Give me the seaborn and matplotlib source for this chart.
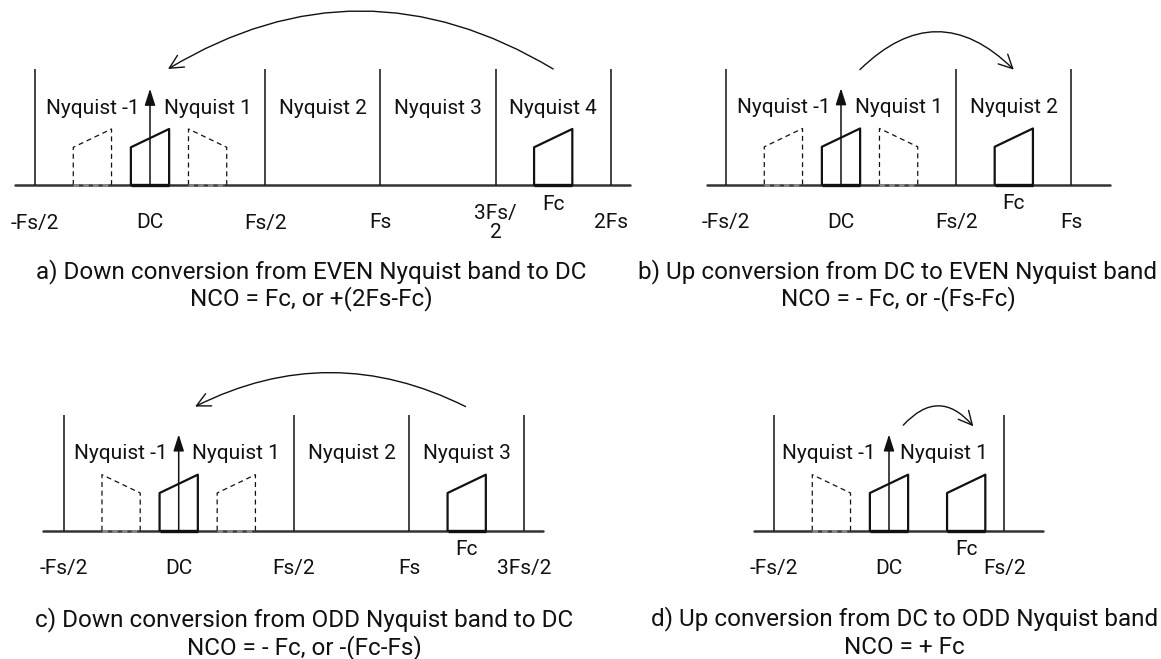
import numpy as np
import pandas as pd
import matplotlib
matplotlib.use("Agg")
import matplotlib.pyplot as plt
import seaborn as sns

sns.set_theme(style="white")
plt.rcParams['font.family'] = ['Roboto', 'DejaVu Sans']

# ---------------- data (frequencies in units of Fs) ----------------
panels = ["a", "b", "c", "d"]

band_edges = {
    "a": [-0.5, 0.5, 1.0, 1.5, 2.0],
    "b": [-0.5, 0.5, 1.0],
    "c": [-0.5, 0.5, 1.0, 1.5],
    "d": [-0.5, 0.5],
}
tick_pos = {
    "a": [-0.5, 0.0, 0.5, 1.0, 1.5, 2.0],
    "b": [-0.5, 0.0, 0.5, 1.0],
    "c": [-0.5, 0.0, 0.5, 1.0, 1.5],
    "d": [-0.5, 0.0, 0.5],
}
tick_labels = {
    "a": ["-Fs/2", "DC", "Fs/2", "Fs", "3Fs/\n2", "2Fs"],
    "b": ["-Fs/2", "DC", "Fs/2", "Fs"],
    "c": ["-Fs/2", "DC", "Fs/2", "Fs", "3Fs/2"],
    "d": ["-Fs/2", "DC", "Fs/2"],
}
nyq_labels = {
    "a": ["Nyquist -1", "Nyquist 1", "Nyquist 2", "Nyquist 3", "Nyquist 4"],
    "b": ["Nyquist -1", "Nyquist 1", "Nyquist 2"],
    "c": ["Nyquist -1", "Nyquist 1", "Nyquist 2", "Nyquist 3"],
    "d": ["Nyquist -1", "Nyquist 1"],
}
nyq_centers = {
    "a": [-0.25, 0.25, 0.75, 1.25, 1.75],
    "b": [-0.25, 0.25, 0.75],
    "c": [-0.25, 0.25, 0.75, 1.25],
    "d": [-0.26, 0.24],
}
fc = {"a": 1.75, "b": 0.75, "c": 1.25, "d": 0.335}
# dashed images: centre and orientation (+1 rising, -1 falling)
image_centers = {"a": [-0.25, 0.25], "b": [-0.25, 0.25], "c": [-0.25, 0.25], "d": [-0.25]}
image_dirs = {"a": [1, -1], "b": [1, -1], "c": [-1, 1], "d": [-1]}
axis_extent = {"a": (-0.586, 2.083), "b": (-0.582, 1.168), "c": (-0.589, 1.581), "d": (-0.586, 0.667)}
# curved arrow: (x_start, y_start, x_end, y_end)
arcs = {
    "a": (1.75, 1.0, 0.078, 1.0),
    "b": (0.082, 0.99, 0.75, 0.99),
    "c": (1.245, 1.07, 0.071, 1.07),
    "d": (0.062, 0.91, 0.366, 0.90),
}
arc_rad = {"a": 0.30, "b": -0.49, "c": 0.25, "d": -0.56}
titles = {
    "a": ["a) Down conversion from EVEN Nyquist band to DC", "NCO = Fc, or +(2Fs-Fc)"],
    "b": ["b) Up conversion from DC to EVEN Nyquist band", "NCO = - Fc, or -(Fs-Fc)"],
    "c": ["c) Down conversion from ODD Nyquist band to DC", "NCO = - Fc, or -(Fc-Fs)"],
    "d": ["d) Up conversion from DC to ODD Nyquist band", "NCO = + Fc"],
}
title_x = {"a": 0.70, "b": 0.247, "c": 0.544, "d": 0.067}

# signal shape
half_w = 0.083
low_h, high_h = 0.325, 0.483
line_h = 1.0
tone_h = 0.83

# ---------------- layout ----------------
W, H = 1161, 659
S = 230.4   # px per Fs
V = 116.0   # px per amplitude unit
boxes = {"a": (0, 0, 640, 330), "b": (640, 0, 1161, 330),
         "c": (0, 330, 640, 659), "d": (640, 330, 1161, 659)}
origin = {"a": (150.0, 185.0), "b": (841.0, 184.5), "c": (178.7, 530.7), "d": (889.0, 530.7)}
title_off = {"a": (87, 114), "b": (87, 114), "c": (89, 117), "d": (88, 117)}

fig = plt.figure(figsize=(W / 100, H / 100), dpi=100)
fig.patch.set_facecolor("white")

FS_LAB = 15
FS_TITLE = 17.5
INK = "#111111"


def trapezoid(center, direction):
    l, r = center - half_w, center + half_w
    if direction > 0:
        hl, hr = low_h, high_h
    else:
        hl, hr = high_h, low_h
    return [l, l, r, r], [0, hl, hr, 0]


for p in panels:
    L, T, R, B = boxes[p]
    ox, oy = origin[p]
    ax = fig.add_axes([L / W, 1 - B / H, (R - L) / W, (B - T) / H])
    ax.set_xlim((L - ox) / S, (R - ox) / S)
    ax.set_ylim((oy - B) / V, (oy - T) / V)
    ax.axis("off")

    # frequency axis
    x0, x1 = axis_extent[p]
    sns.lineplot(x=[x0, x1], y=[0, 0], ax=ax, color="#333333", lw=1.8, sort=False, estimator=None)

    # Nyquist band edges
    ax.vlines(band_edges[p], 0, line_h, color=INK, lw=1.1)

    # dashed images
    for c, d in zip(image_centers[p], image_dirs[p]):
        xs, ys = trapezoid(c, d)
        sns.lineplot(x=xs, y=ys, ax=ax, color=INK, lw=0.9, ls=(0, (4, 3)), sort=False, estimator=None)
        ax.plot([xs[0], xs[-1]], [0, 0], color="#888888", lw=2.0, ls=(0, (2, 1.5)))

    # solid signals at DC and at Fc
    for c in [0.0, fc[p]]:
        xs, ys = trapezoid(c, 1)
        sns.lineplot(x=xs, y=ys, ax=ax, color=INK, lw=1.6, sort=False, estimator=None)
        ax.plot([xs[0], xs[-1]], [0, 0], color=INK, lw=2.4, solid_capstyle="butt")

    # DC tone arrow
    ax.annotate("", xy=(0, tone_h), xytext=(0, 0),
                arrowprops=dict(arrowstyle="-|>,head_length=0.5,head_width=0.16",
                                mutation_scale=20, lw=1.1, color=INK,
                                shrinkA=0, shrinkB=0))

    # curved transfer arrow
    xa, ya, xb, yb = arcs[p]
    ax.annotate("", xy=(xb, yb), xytext=(xa, ya),
                arrowprops=dict(arrowstyle="->,head_length=0.7,head_width=0.35",
                                mutation_scale=14, lw=1.0, color=INK,
                                connectionstyle=f"arc3,rad={arc_rad[p]}",
                                shrinkA=0, shrinkB=0))

    # Nyquist labels
    for lab, c in zip(nyq_labels[p], nyq_centers[p]):
        ax.text(c, 77 / V, lab, ha="center", va="center", fontsize=FS_LAB, color=INK)

    # tick labels
    for lab, t in zip(tick_labels[p], tick_pos[p]):
        ax.text(t, -38 / V, lab, ha="center", va="center", fontsize=FS_LAB,
                color=INK, linespacing=1.0)

    # Fc label
    ax.text(fc[p], -19 / V, "Fc", ha="center", va="center", fontsize=FS_LAB, color=INK)

    # titles
    t1, t2 = title_off[p]
    ax.text(title_x[p], -t1 / V, titles[p][0], ha="center", va="center",
            fontsize=FS_TITLE, color=INK)
    ax.text(title_x[p], -t2 / V, titles[p][1], ha="center", va="center",
            fontsize=FS_TITLE, color=INK)

fig.savefig("out.png", dpi=100, facecolor="white")
